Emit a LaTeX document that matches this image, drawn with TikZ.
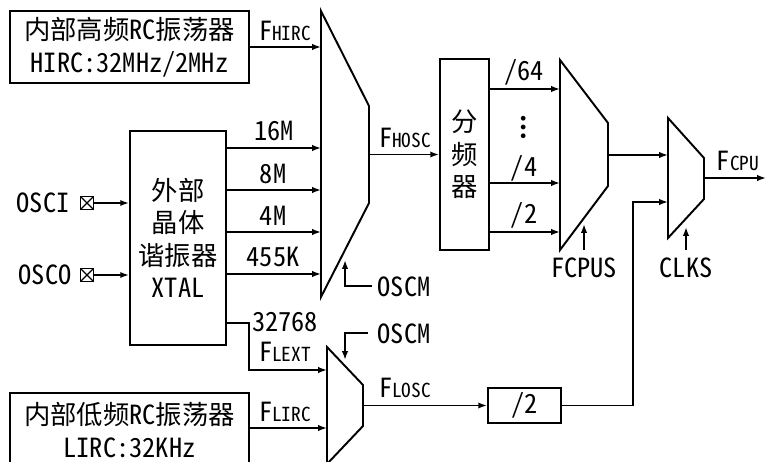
\documentclass[tikz,border=0pt]{standalone}
\usepackage{fontspec}
\setmainfont{Noto Sans CJK SC}[CharacterWidth=Half]
\usetikzlibrary{arrows.meta}
\newcommand{\smpart}[1]{{\fontsize{11pt}{12pt}\selectfont #1}}
\begin{document}
\begin{tikzpicture}[x=0.02cm,y=-0.02cm,
  every node/.style={font=\fontsize{15pt}{18.5pt}\selectfont},
  ln/.style={line width=1.1pt},
  arr/.style={line width=1.1pt,-{Latex[length=5pt,width=3.6pt]}},
  blk/.style={draw,line width=1.1pt,inner sep=0pt,align=center},
  lbl/.style={inner sep=0pt},
  pin/.style={draw,line width=0.9pt,minimum size=0.26cm,inner sep=0pt,
    path picture={\draw[line width=0.7pt] (path picture bounding box.north west) -- (path picture bounding box.south east)
      (path picture bounding box.south west) -- (path picture bounding box.north east);}}]
\useasboundingbox (0,0) rectangle (766,462);

% blocks
\node[blk,minimum width=4.78cm,minimum height=1.44cm] (hirc) at (129.5,47) {内部高频RC振荡器\\HIRC:32MHz/2MHz};
\node[blk,minimum width=1.92cm,minimum height=4.28cm] (xtal) at (178,238) {外部\\晶体\\谐振器\\XTAL};
\node[blk,minimum width=0.98cm,minimum height=3.82cm] (div) at (464.5,154.5) {分\\频\\器};
\node[blk,minimum width=4.78cm,minimum height=1.48cm] (lirc) at (129.5,430) {内部低频RC振荡器\\LIRC:32KHz};
\node[blk,minimum width=1.46cm,minimum height=0.7cm] (divtwo) at (524.5,405.5) {/2};

% muxes
\draw[ln] (321,11) -- (369,106) -- (369,203) -- (321,297) -- cycle;
\draw[ln] (560,60) -- (608,123) -- (608,186) -- (560,250) -- cycle;
\draw[ln] (668,118) -- (704,158) -- (704,199) -- (668,238) -- cycle;
\draw[ln] (327,347) -- (363,385) -- (363,426) -- (327,464) -- cycle;

% mux ports
\coordinate (m1a) at (321,47);
\coordinate (m1b) at (321,148);
\coordinate (m1c) at (321,190);
\coordinate (m1d) at (321,232);
\coordinate (m1e) at (321,274);
\coordinate (m1o) at (369,154.5);
\coordinate (m2a) at (560,89);
\coordinate (m2b) at (560,183);
\coordinate (m2c) at (560,232);
\coordinate (m2o) at (608,155);
\coordinate (m3a) at (668,155);
\coordinate (m3b) at (668,202);
\coordinate (m3o) at (704,178);
\coordinate (m4a) at (327,370);
\coordinate (m4b) at (327,428);
\coordinate (m4o) at (363,405.5);
\coordinate (fcpuend) at (766,178);
\coordinate (c32) at (249,323);
\coordinate (turn) at (633,202);

% pins
\node[lbl] (osci) at (43,203) {OSCI};
\node[lbl] (osco) at (45,275) {OSCO};
\node[pin] (pini) at (87,203) {};
\node[pin] (pino) at (87,275) {};
\draw[arr] (pini.east) -- (xtal.west |- pini);
\draw[arr] (pino.east) -- (xtal.west |- pino);

% connectors
\draw[arr] (hirc.east) -- (m1a);
\draw[arr] (xtal.east |- m1b) -- (m1b);
\draw[arr] (xtal.east |- m1c) -- (m1c);
\draw[arr] (xtal.east |- m1d) -- (m1d);
\draw[arr] (xtal.east |- m1e) -- (m1e);
\draw[arr] (m1o) -- (div.west |- m1o);
\draw[arr] (div.east |- m2a) -- (m2a);
\draw[arr] (div.east |- m2b) -- (m2b);
\draw[arr] (div.east |- m2c) -- (m2c);
\draw[arr] (m2o) -- (m3a);
\draw[arr] (m3o) -- (fcpuend);
\draw[arr] (xtal.east |- c32) -- (c32) |- (m4a);
\draw[arr] (lirc.east |- m4b) -- (m4b);
\draw[arr] (m4o) -- (divtwo.west |- m4o);
\draw[arr] (divtwo.east) -| (turn) -- (m3b);

% select lines
\coordinate (s1a) at (372,286);
\coordinate (s1b) at (345,286);
\coordinate (s1c) at (345,260);
\draw[arr] (s1a) -- (s1b) -- (s1c);
\node[lbl] (oscma) at (404,287) {OSCM};
\coordinate (s2a) at (584,250);
\coordinate (s2b) at (584,224);
\draw[arr] (s2a) -- (s2b);
\node[lbl] (fcpus) at (584,268) {FCPUS};
\coordinate (s3a) at (686,250);
\coordinate (s3b) at (686,227);
\draw[arr] (s3a) -- (s3b);
\node[lbl] (clks) at (686,268) {CLKS};
\coordinate (s4a) at (368,333);
\coordinate (s4b) at (345,333);
\coordinate (s4c) at (345,360);
\draw[arr] (s4a) -- (s4b) -- (s4c);
\node[lbl] (oscmb) at (404,334) {OSCM};

% labels
\node[lbl] (lfhirc) at (285,31) {F\smpart{HIRC}};
\node[lbl] (l16) at (274,131) {16M};
\node[lbl] (l8) at (273,174) {8M};
\node[lbl] (l4) at (273,216) {4M};
\node[lbl] (l455) at (273,257) {455K};
\node[lbl] (lfhosc) at (405,138) {F\smpart{HOSC}};
\node[lbl] (l64) at (524,72) {/64};
\node[lbl] (ldots) at (524,127) {\textbf{︙}};
\node[lbl] (ldiv4) at (524,168) {/4};
\node[lbl] (ldiv2) at (524,215) {/2};
\node[lbl] (lfcpu) at (738,161) {F\smpart{CPU}};
\node[lbl] (l32768) at (285,322) {32768};
\node[lbl] (lflext) at (285,352) {F\smpart{LEXT}};
\node[lbl] (lflirc) at (285,412) {F\smpart{LIRC}};
\node[lbl] (lflosc) at (405,388) {F\smpart{LOSC}};
\end{tikzpicture}
\end{document}
